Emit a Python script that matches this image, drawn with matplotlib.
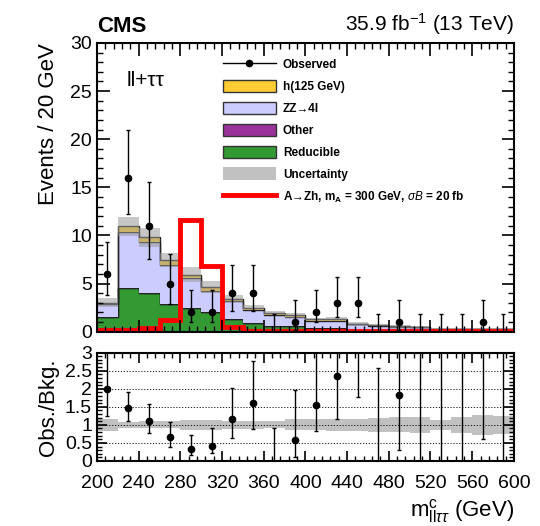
import numpy as np
import matplotlib as mpl
mpl.use('Agg')
import matplotlib.pyplot as plt
from matplotlib.patches import Patch
from matplotlib.lines import Line2D
from matplotlib.ticker import MultipleLocator, FuncFormatter

plt.rcParams['font.family'] = ['Liberation Sans', 'DejaVu Sans']
plt.rcParams['mathtext.fontset'] = 'custom'
plt.rcParams['mathtext.rm'] = 'Liberation Sans'
plt.rcParams['mathtext.it'] = 'Liberation Sans:italic'
plt.rcParams['mathtext.bf'] = 'Liberation Sans:bold'

# binning of m_lltautau (GeV)
edges = np.arange(200, 620, 20)
centers = edges[:-1] + 10

# background stack, events per bin
reducible = [1.5, 4.5, 4.0, 2.9, 2.45, 2.0, 1.3, 0.87, 0.63, 0.63,
             0.35, 0.4, 0.2, 0.15, 0.1, 0.1, 0.05, 0.05, 0.05, 0.05]
other = [0.02, 0.03, 0.03, 0.02, 0.02, 0.02, 0.01, 0.01, 0.01, 0.01,
         0.01, 0.01, 0.0, 0.0, 0.0, 0.0, 0.0, 0.0, 0.0, 0.0]
zz4l = [1.4, 5.8, 5.25, 4.05, 3.1, 2.25, 1.85, 1.4, 1.12, 0.85,
        0.77, 0.75, 0.55, 0.47, 0.39, 0.35, 0.22, 0.22, 0.21, 0.21]
h125 = [0.1, 0.6, 0.55, 0.45, 0.35, 0.4, 0.25, 0.22, 0.2, 0.2,
        0.15, 0.12, 0.1, 0.08, 0.06, 0.05, 0.03, 0.03, 0.02, 0.02]
# relative background uncertainty
unc_rel = [0.16, 0.09, 0.1, 0.1, 0.13, 0.13, 0.11, 0.11, 0.1, 0.15,
           0.15, 0.16, 0.17, 0.19, 0.21, 0.22, 0.13, 0.22, 0.27, 0.24]
# A->Zh signal, mA = 300 GeV
signal = [0.15, 0.15, 0.4, 1.2, 11.6, 6.8, 0.45, 0.1, 0.1, 0.1,
          0.1, 0.1, 0.1, 0.1, 0.1, 0.1, 0.1, 0.1, 0.1, 0.1]
# data
observed = [6, 16, 11, 5, 2, 2, 4, 4, 0, 1, 2, 3, 3, 0, 1, 0, 0, 0, 1, 0]
obs_lo = [3.8, 12.2, 7.6, 2.9, 1.05, 1.05, 2.2, 2.2, 0, 0.17,
          1.05, 1.5, 1.5, 0, 0.17, 0, 0, 0, 0.17, 0]
obs_hi = [9.3, 21.0, 15.5, 8.1, 4.3, 4.3, 6.9, 6.9, 1.8, 3.3,
          4.3, 5.7, 5.7, 1.8, 3.3, 1.8, 1.8, 1.8, 3.3, 1.8]

c_h = '#ffcc33'
c_zz = '#ccccff'
c_other = '#993399'
c_red = '#339933'
c_unc = '#999999'

fig = plt.figure(figsize=(5.4, 5.26), dpi=100)
ax = fig.add_axes([0.1796, 0.3694, 0.772, 0.549])
ax2 = fig.add_axes([0.1796, 0.1236, 0.772, 0.206])

layers = [(reducible, c_red), (other, c_other), (zz4l, c_zz), (h125, c_h)]
base = np.zeros(len(centers))
for vals, col in layers:
    top = base + np.array(vals)
    ax.stairs(top, edges, baseline=base, fill=True, facecolor=col, lw=0)
    ax.stairs(top, edges, baseline=None, color='#222222', lw=1.0)
    base = top
total = base
rel = np.array(unc_rel)
ax.stairs(total * (1 + rel), edges, baseline=total * (1 - rel), fill=True,
          facecolor=c_unc, alpha=0.55, lw=0)
ax.stairs(signal, edges, baseline=None, color='red', lw=3.5)

obs = np.array(observed, dtype=float)
lo = np.array(obs_lo)
hi = np.array(obs_hi)
ax.errorbar(centers, obs, yerr=[obs - lo, hi - obs], fmt='none', ecolor='black',
            elinewidth=1.0, capsize=1.5)
nz = obs > 0
ax.plot(centers[nz], obs[nz], 'o', color='black', ms=4.5)

ax.set_xlim(200, 600)
ax.set_ylim(0, 30)
ax.xaxis.set_major_locator(MultipleLocator(40))
ax.xaxis.set_minor_locator(MultipleLocator(8))
ax.yaxis.set_major_locator(MultipleLocator(5))
ax.yaxis.set_minor_locator(MultipleLocator(1))
ax.tick_params(which='both', direction='in', top=True, right=True, labelsize=14)
ax.tick_params(which='major', length=9, width=1.2)
ax.tick_params(which='minor', length=4.5, width=1.0)
ax.tick_params(axis='x', labelbottom=False)
ax.set_ylabel('Events / 20 GeV', fontsize=16, loc='top', labelpad=8)
for s in ax.spines.values():
    s.set_linewidth(1.5)

ax.text(0.0, 1.02, 'CMS', transform=ax.transAxes, fontsize=16, fontweight='bold',
        ha='left', va='bottom')
ax.text(1.0, 1.02, '35.9 fb$^{-1}$ (13 TeV)', transform=ax.transAxes, fontsize=15,
        ha='right', va='bottom')
ax.text(0.07, 0.87, 'll+ττ', transform=ax.transAxes, fontsize=15, ha='left', va='center')

handles = [
    Line2D([], [], color='black', marker='o', ms=4.5, lw=1.0),
    Patch(facecolor=c_h, edgecolor='#333333'),
    Patch(facecolor=c_zz, edgecolor='#333333'),
    Patch(facecolor=c_other, edgecolor='#333333'),
    Patch(facecolor=c_red, edgecolor='#333333'),
    Patch(facecolor=c_unc, alpha=0.6, edgecolor='none'),
    Line2D([], [], color='red', lw=3.5),
]
labels = ['Observed', 'h(125 GeV)', 'ZZ→4l', 'Other', 'Reducible', 'Uncertainty',
          'A→Zh, m$_{\\mathbf{A}}$ = 300 GeV, $\\sigma B$ = 20 fb']
leg = ax.legend(handles, labels, loc='upper left', bbox_to_anchor=(0.29, 0.965),
                frameon=False, prop={'size': 8.5, 'weight': 'bold'},
                handlelength=4.5, handleheight=1.25, labelspacing=0.74, handletextpad=0.6,
                borderaxespad=0)

# ratio panel
ax2.stairs(1 + rel, edges, baseline=1 - rel, fill=True, facecolor=c_unc, alpha=0.6, lw=0)
for g in [0.5, 1.0, 1.5, 2.0, 2.5]:
    ax2.axhline(g, color='black', ls=(0, (1.5, 2)), lw=0.6)
ratio = obs / total
ax2.errorbar(centers, ratio, yerr=[(obs - lo) / total, (hi - obs) / total], fmt='none',
             ecolor='black', elinewidth=1.0, capsize=1.5)
ax2.plot(centers[nz], ratio[nz], 'o', color='black', ms=4.5)
ax2.set_xlim(200, 600)
ax2.set_ylim(0, 3)
ax2.xaxis.set_major_locator(MultipleLocator(40))
ax2.xaxis.set_minor_locator(MultipleLocator(8))
ax2.yaxis.set_major_locator(MultipleLocator(0.5))
ax2.yaxis.set_minor_locator(MultipleLocator(0.1))
ax2.yaxis.set_major_formatter(FuncFormatter(lambda v, p: f'{v:g}'))
ax2.tick_params(which='both', direction='in', top=True, right=True, labelsize=14)
ax2.tick_params(which='major', length=7, width=1.2)
ax2.tick_params(which='minor', length=3.5, width=1.0)
ax2.tick_params(axis='x', pad=10)
ax2.set_ylabel('Obs./Bkg.', fontsize=16, labelpad=4)
ax2.set_xlabel('m$^{\\mathrm{c}}_{\\mathrm{ll}\\tau\\tau}$ (GeV)', fontsize=16, loc='right',
               labelpad=4)
for s in ax2.spines.values():
    s.set_linewidth(1.5)

fig.savefig('out.png', dpi=100)
